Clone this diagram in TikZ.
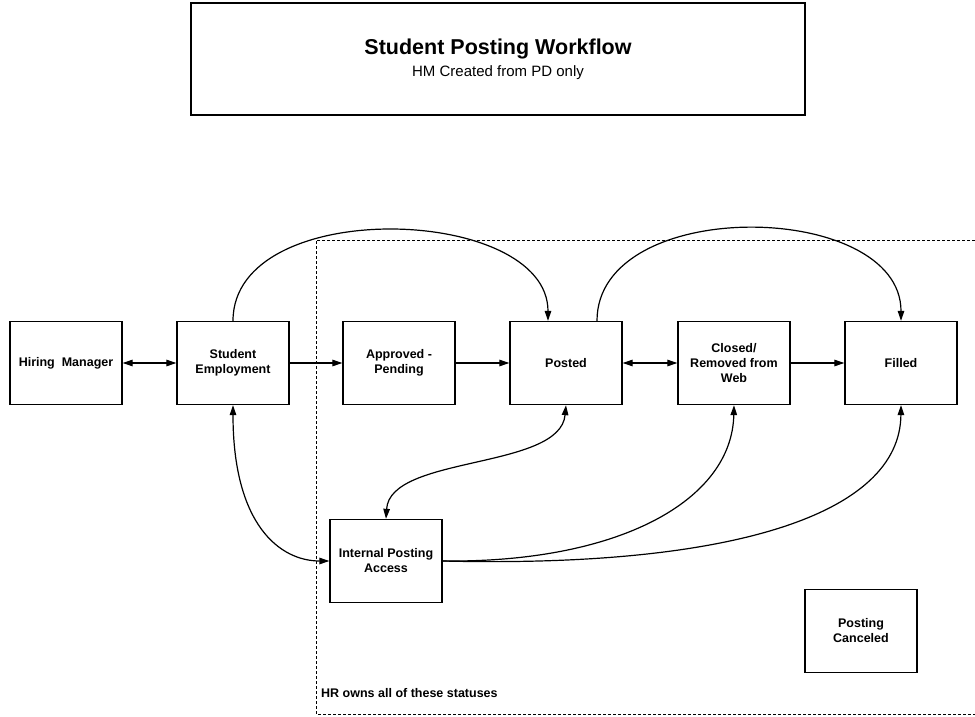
\documentclass[tikz,border=0pt]{standalone}
\usepackage{fontspec}
\setmainfont{Liberation Sans}
\usetikzlibrary{arrows.meta}

\begin{document}
\begin{tikzpicture}[x=1pt, y=-1pt,
	status/.style={draw, line width=1.3pt, minimum width=112pt, minimum height=83pt, inner sep=2pt, align=center, font=\fontsize{12.5}{15}\selectfont\bfseries},
	flow/.style={line width=1.2pt, -{Triangle[length=10pt,width=6.5pt]}},
	twoway/.style={line width=1.2pt, {Triangle[length=10pt,width=6.5pt]}-{Triangle[length=10pt,width=6.5pt]}}]
	\useasboundingbox (0,0) rectangle (975,717);
	% heading
	\node[draw, line width=1.6pt, minimum width=614pt, minimum height=112pt, align=center, font=\fontsize{15}{22}\selectfont] (title) at (498,59)
		{{\fontsize{21.5}{22}\selectfont\bfseries Student Posting Workflow}\\HM Created from PD only};
	% HR region, open on the right
	\draw[line width=0.8pt, dash pattern=on 3pt off 2pt] (975,240) -- (316,240) -- (316,714) -- (975,714);
	\node[anchor=base west, inner sep=0pt, font=\fontsize{12.5}{15}\selectfont\bfseries] (hrnote) at (321,697) {HR owns all of these statuses};
	% statuses
	\node[status] (hm) at (66,363) {Hiring\ \ Manager};
	\node[status] (se) at (233,363) {Student\\Employment};
	\node[status] (ap) at (399,363) {Approved -\\Pending};
	\node[status] (posted) at (566,363) {Posted};
	\node[status] (closed) at (734,363) {Closed/\\Removed from\\Web};
	\node[status] (filled) at (901,363) {Filled};
	\node[status] (ipa) at (386,561) {Internal Posting\\Access};
	\node[status] (canceled) at (861,631) {Posting\\Canceled};
	% main line
	\draw[twoway] (hm) -- (se);
	\draw[flow] (se) -- (ap);
	\draw[flow] (ap) -- (posted);
	\draw[twoway] (posted) -- (closed);
	\draw[flow] (closed) -- (filled);
	% jumps over the top
	\draw[flow] (se.north) .. controls (233,195) and ([xshift=-18pt]posted.north |- 0,205) .. ([xshift=-18pt]posted.north);
	\draw[flow] ([xshift=31pt]posted.north) .. controls (597,195) and (901,200) .. (filled.north);
	% internal posting links
	\draw[twoway] (posted.south) .. controls (560,470) and (390,455) .. (ipa.north);
	\draw[twoway] (se.south) .. controls (233,525) and (280,561) .. (ipa.west);
	\draw[flow] (ipa.east) .. controls (620,563) and (732,500) .. (closed.south);
	\draw[flow] (ipa.east) .. controls (730,568) and (900,515) .. (filled.south);
\end{tikzpicture}
\end{document}
